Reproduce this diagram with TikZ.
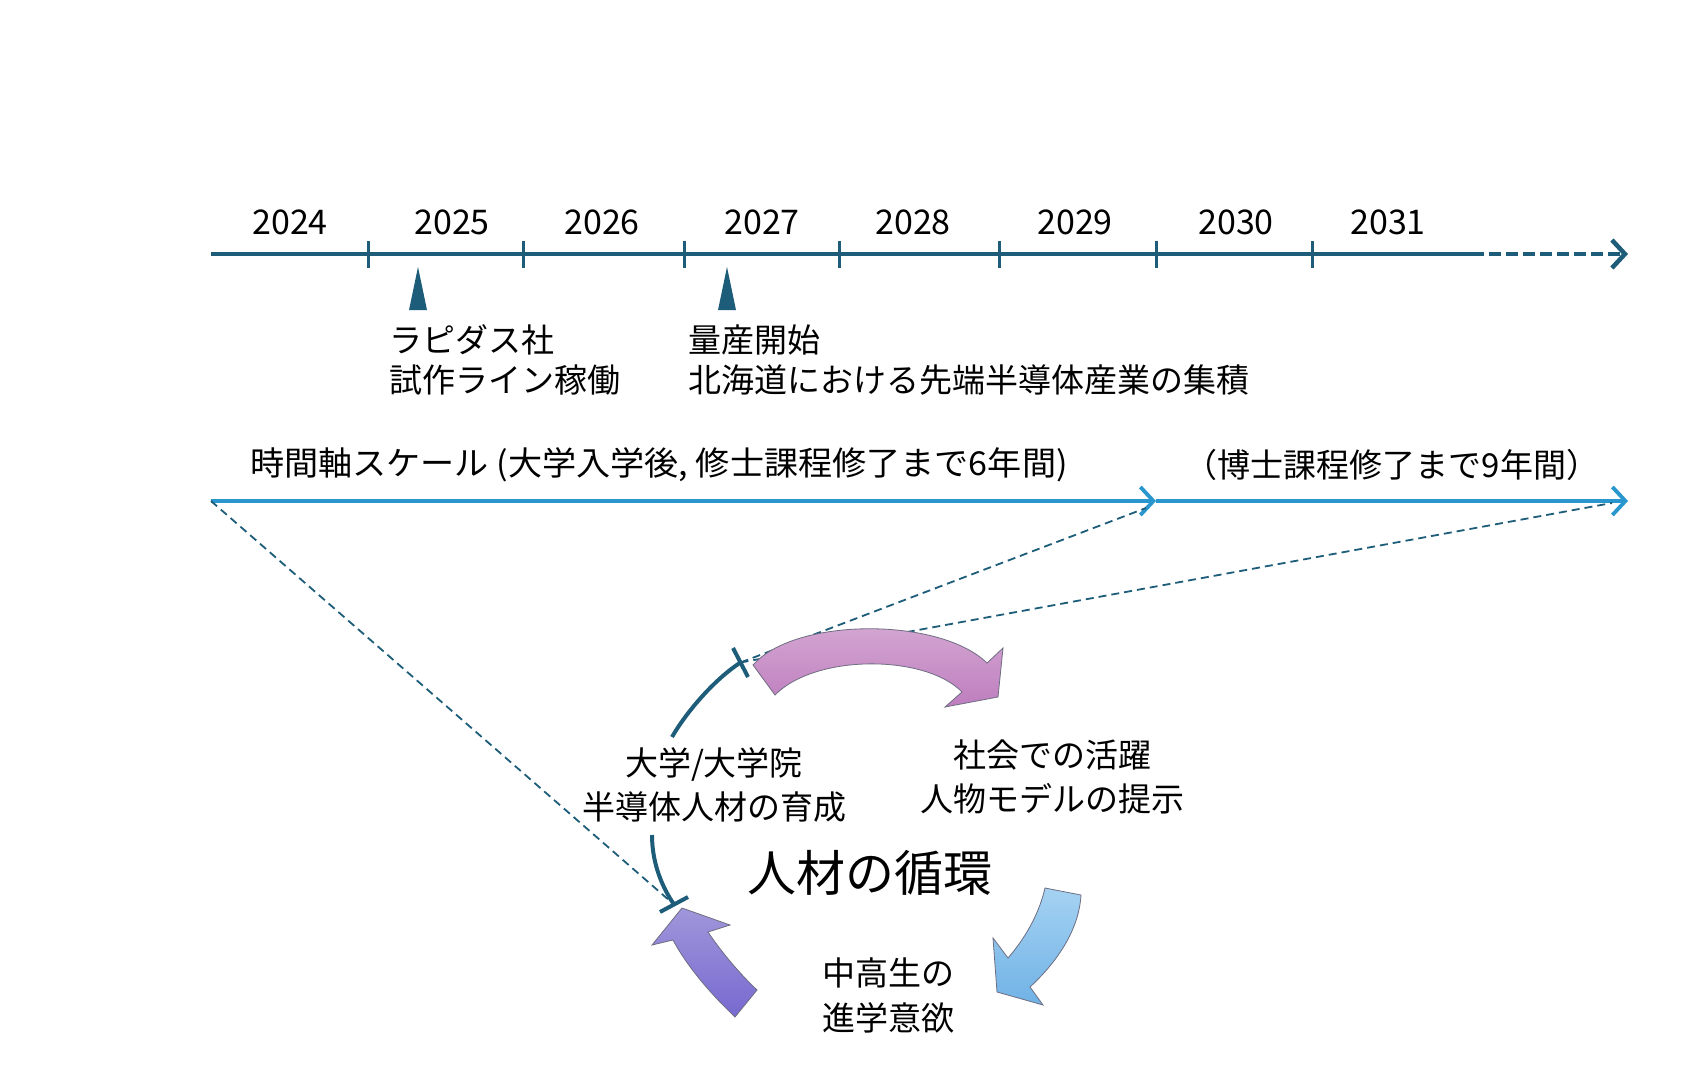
\documentclass[tikz,border=0pt]{standalone}
\usepackage{fontspec}
\setmainfont{Noto Sans CJK JP}
\usetikzlibrary{arrows.meta}
\definecolor{tealdark}{RGB}{30,93,122}
\definecolor{scaleblue}{RGB}{41,150,205}
\definecolor{pinkA}{RGB}{214,170,212}
\definecolor{pinkB}{RGB}{190,125,190}
\definecolor{blueA}{RGB}{165,210,242}
\definecolor{blueB}{RGB}{112,178,230}
\definecolor{purpA}{RGB}{160,150,218}
\definecolor{purpB}{RGB}{118,105,208}
\definecolor{edgegray}{RGB}{110,110,130}
\tikzset{
  timeline/.style={draw=tealdark, line width=4.5pt},
  tickmark/.style={draw=tealdark, line width=3pt},
  yearlbl/.style={font=\fontsize{34}{40}\selectfont, inner sep=0pt},
  lbl/.style={font=\fontsize{33}{40}\selectfont, inner sep=0pt, align=left},
  cyclbl/.style={font=\fontsize{33}{44}\selectfont, inner sep=0pt, align=center},
  biglbl/.style={font=\fontsize{49}{56}\selectfont, inner sep=0pt},
  thindash/.style={draw=tealdark, line width=1.8pt, dash pattern=on 8pt off 5pt},
  chevron/.style={-{Straight Barb[length=13pt,width=28pt]}},
  scalearrow/.style={draw=scaleblue, line width=3.8pt, chevron},
  blockarrow/.style={draw=edgegray, line width=0.8pt, line join=miter},
  cyclearc/.style={draw=tealdark, line width=4pt},
  marker/.style={fill=tealdark}
}
\begin{document}
\begin{tikzpicture}[x=1pt,y=-1pt]
\useasboundingbox[fill=white] (0,0) rectangle (1683,1091);

% timeline
\coordinate (tlA) at (211,254);
\coordinate (tlB) at (1484,254);
\coordinate (tlC) at (1628,254);
\draw[timeline] (tlA) -- (tlB);
\draw[timeline, dash pattern=on 12pt off 5pt, dash phase=12pt, chevron] (tlB) -- (tlC);
\foreach \x in {368,523,684,839,999,1156,1312}
  \draw[tickmark] (\x,241) -- (\x,268);

\node[yearlbl] (y24) at (290,222) {2024};
\node[yearlbl] (y25) at (452,222) {2025};
\node[yearlbl] (y26) at (602,222) {2026};
\node[yearlbl] (y27) at (762,222) {2027};
\node[yearlbl] (y28) at (913,222) {2028};
\node[yearlbl] (y29) at (1075,222) {2029};
\node[yearlbl] (y30) at (1236,222) {2030};
\node[yearlbl] (y31) at (1388,222) {2031};

\fill[marker] (409,310) -- (418,267) -- (427,310) -- cycle;
\fill[marker] (718,310) -- (727,267) -- (736,310) -- cycle;

\node[lbl, anchor=west] (ev1) at (389,360) {ラピダス社\\試作ライン稼働};
\node[lbl, anchor=west] (ev2) at (688,360) {量産開始\\北海道における先端半導体産業の集積};

% time scale
\node[lbl, anchor=west, transform shape, xscale=1.034] (sc6) at (250,465) {時間軸スケール (大学入学後, 修士課程修了まで6年間)};
\node[lbl] (sc9) at (1392,465) {（博士課程修了まで9年間）};
\coordinate (sA) at (211,501);
\coordinate (sB) at (1156,501);
\coordinate (sC) at (1628,501);
\draw[scalearrow] (sA) -- (sB);
\draw[scalearrow] (sB) -- (sC);

% cycle arcs
\coordinate (tkU) at (740.5,662.5);
\coordinate (tkL) at (674,904.5);
\coordinate (arcU) at (672,737);
\coordinate (arcL) at (652,835);
\coordinate (dE1) at (1146,508);
\coordinate (dE2) at (1612,503);
\draw[thindash] (sA) -- (tkL);
\draw[thindash] (tkU) -- (dE1);
\draw[thindash] (tkU) -- (dE2);
\draw[cyclearc] (arcU) .. controls (687,711) and (715,679) .. (tkU);
\draw[cyclearc] (arcL) .. controls (652,860) and (660,884) .. (tkL);
\draw[cyclearc] (733,648) -- (748,677);
\draw[cyclearc] (660,912) -- (688,897);

% block arrows
\draw[blockarrow, top color=pinkA, bottom color=pinkB]
  (753,665) .. controls (795,617) and (940,617) .. (987,663)
  -- (1003,648) -- (998,697) -- (945,707) -- (962,692)
  .. controls (925,654) and (815,654) .. (775,695) -- cycle;
\draw[blockarrow, top color=blueA, bottom color=blueB]
  (1045,888) -- (1081,895)
  .. controls (1079,930) and (1057,962) .. (1030,987)
  -- (1043,1005) -- (997,992) -- (993,938) -- (1008,958)
  .. controls (1028,935) and (1040,910) .. cycle;
\draw[blockarrow, top color=purpA, bottom color=purpB]
  (757,990) -- (735,1017)
  .. controls (712,995) and (688,968) .. (673,940)
  -- (652,945) -- (682,908) -- (730,925) -- (708,932)
  .. controls (720,950) and (738,972) .. cycle;

% cycle labels
\node[cyclbl] (uni) at (714,785) {大学/大学院\\半導体人材の育成};
\node[cyclbl] (soc) at (1052,777) {社会での活躍\\人物モデルの提示};
\node[biglbl] (cyc) at (870,873) {人材の循環};
\node[lbl, anchor=west, font=\fontsize{33}{45}\selectfont] (hs) at (822,995) {中高生の\\進学意欲};
\end{tikzpicture}
\end{document}
